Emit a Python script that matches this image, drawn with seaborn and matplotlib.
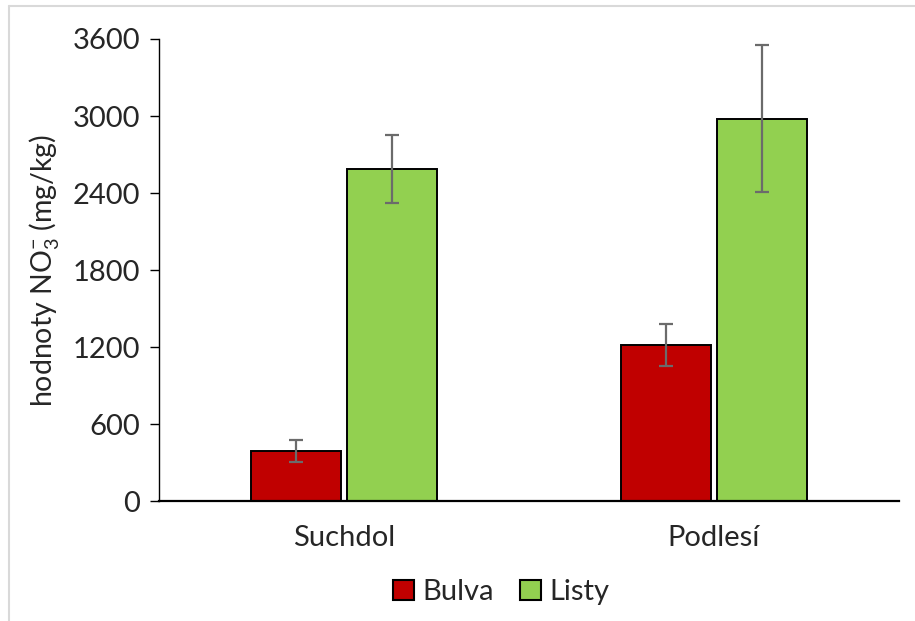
import pandas as pd
import seaborn as sns
import matplotlib.pyplot as plt
from matplotlib.lines import Line2D

# hodnoty
lokality = ["Suchdol", "Podlesí"]
bulva = [392, 1216]
listy = [2588, 2980]
bulva_err = [85, 165]
listy_err = [262, 570]
yticks = [0, 600, 1200, 1800, 2400, 3000, 3600]

df = pd.DataFrame({
    "Lokalita": lokality * 2,
    "Část": ["Bulva"] * len(lokality) + ["Listy"] * len(lokality),
    "NO3": bulva + listy,
})
chyby = bulva_err + listy_err

sns.set_theme(style="white")
plt.rcParams['font.family'] = ['Lato', 'DejaVu Sans']
plt.rcParams['mathtext.fontset'] = 'custom'
plt.rcParams['mathtext.rm'] = 'Lato'
plt.rcParams['mathtext.it'] = 'Lato'

FS = 21

fig = plt.figure(figsize=(9.15, 6.21), dpi=100)
ax = fig.add_axes([0.1738, 0.1932, 0.8087, 0.744])

paleta = {"Bulva": "#C00000", "Listy": "#92D050"}
sns.barplot(data=df, x="Lokalita", y="NO3", hue="Část", palette=paleta,
            width=0.522, gap=0.07, edgecolor="black", linewidth=1.4,
            saturation=1, errorbar=None, legend=False, ax=ax)

# chybové úsečky na středy sloupců
for patch, err in zip(ax.patches, chyby):
    x = patch.get_x() + patch.get_width() / 2
    ax.errorbar(x, patch.get_height(), yerr=err, fmt="none",
                ecolor="#6b6b6b", elinewidth=1.6, capsize=5, capthick=1.6, zorder=5)

ax.set_ylim(0, 3600)
ax.set_xlim(-0.5, 1.5)
ax.set_yticks(yticks)
ax.set_xlabel("")
ax.set_ylabel(r"hodnoty NO$_3^{-}$ (mg/kg)", fontsize=FS - 0.5, labelpad=8)
ax.tick_params(axis="y", which="major", direction="out", length=6.5, width=1,
               color="black", labelsize=FS, left=True, pad=7)
ax.tick_params(axis="x", length=0, labelsize=FS, pad=17)
for s in ["top", "right"]:
    ax.spines[s].set_visible(False)
ax.spines["left"].set_color("black")
ax.spines["left"].set_linewidth(1)
ax.spines["bottom"].set_color("black")
ax.spines["bottom"].set_linewidth(1.6)

# legenda pod grafem
handles = [plt.Rectangle((0, 0), 1, 1, facecolor=paleta[k], edgecolor="black", linewidth=1.5)
           for k in ["Bulva", "Listy"]]
fig.legend(handles, ["Bulva", "Listy"], loc="center", bbox_to_anchor=(0.548, 0.046),
           ncol=2, frameon=False, fontsize=FS, handlelength=0.7, handleheight=0.7,
           handletextpad=0.3, columnspacing=0.9)

# rámeček oblasti grafu
fig.add_artist(Line2D([9 / 915, 9 / 915], [0, 1 - 6 / 621], color="#d9d9d9", lw=1.5))
fig.add_artist(Line2D([9 / 915, 1], [1 - 6 / 621, 1 - 6 / 621], color="#d9d9d9", lw=1.5))

fig.savefig("out.png", dpi=100)
